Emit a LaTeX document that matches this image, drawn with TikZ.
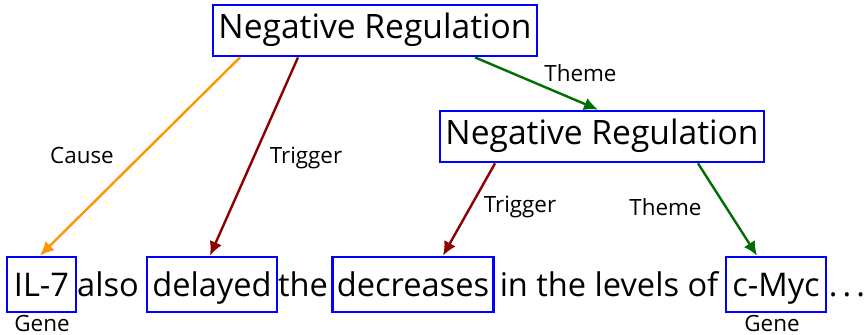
\documentclass[tikz,border=0pt]{standalone}
\usepackage{fontspec}
\setmainfont{Open Sans}
\usepackage{tikz}
\usetikzlibrary{positioning,arrows.meta}
\definecolor{causeorange}{RGB}{255,150,0}
\definecolor{trigred}{RGB}{140,0,0}
\definecolor{themegreen}{RGB}{0,110,0}

\begin{document}
\begin{tikzpicture}[x=0.5pt, y=-0.5pt,
  word/.style={inner sep=0pt, anchor=base, font=\fontsize{16.3}{20}\selectfont},
  span/.style={word, draw=blue, line width=1.4pt, inner xsep=2pt,
               text height=20pt, text depth=7.5pt},
  event/.style={draw=blue, line width=1.4pt, inner sep=0pt, anchor=base,
                font=\fontsize{16.8}{20}\selectfont, minimum width=162pt,
                text height=17pt, text depth=8.5pt},
  lbl/.style={inner sep=0pt, anchor=base, text=black, font=\fontsize{11.2}{13}\selectfont},
  arr/.style={-{Latex[length=7pt,width=6.5pt]}, line width=1.2pt}]
\useasboundingbox (0,0) rectangle (868,335);
% events
\node[event] (neg1) at (375,39)  {Negative Regulation};
\node[event] (neg2) at (602,145) {Negative Regulation};
% sentence
\node[span, minimum width=34.5pt] (il7) at (41.5,297) {IL-7};
\node[word] (also) at (108,297) {also};
\node[span, minimum width=65pt] (delayed) at (212,297) {delayed};
\node[word] (the) at (303,297) {the};
\node[span, minimum width=80pt] (decr) at (413,297) {decreases};
\node[word] (levels) at (609,297) {in the levels of};
\node[span, minimum width=50pt] (cmyc) at (776,297) {c-Myc};
\node[word] (dots) at (847,297) {.\hspace{2.5pt}.\hspace{2.5pt}.};
% entity types
\node[lbl] (gene1) at (42,332) {Gene};
\node[lbl] (gene2) at (772,332) {Gene};
% arguments
\draw[arr, causeorange] ([xshift=-67.5pt]neg1.south) -- ([xshift=-0.75pt]il7.north)
  node[lbl, pos=0.5, xshift=-29pt, yshift=-3.5pt] (cause) {Cause};
\draw[arr, trigred] ([xshift=-38.5pt]neg1.south) -- ([xshift=-1pt]delayed.north)
  node[lbl, pos=0.5, xshift=26pt, yshift=-3.5pt] (trig1) {Trigger};
\draw[arr, themegreen] ([xshift=50pt]neg1.south) -- ([xshift=-2pt]neg2.north)
  node[lbl, pos=0.5, xshift=22pt, yshift=1pt] (theme1) {Theme};
\draw[arr, trigred] ([xshift=-53.5pt]neg2.south) -- ([xshift=15pt]decr.north)
  node[lbl, pos=0.5, xshift=25.5pt, yshift=-1.75pt] (trig2) {Trigger};
\draw[arr, themegreen] ([xshift=48pt]neg2.south) -- ([xshift=-9.5pt]cmyc.north)
  node[lbl, pos=0.5, xshift=-31pt, yshift=-3.25pt] (theme2) {Theme};
\end{tikzpicture}
\end{document}
